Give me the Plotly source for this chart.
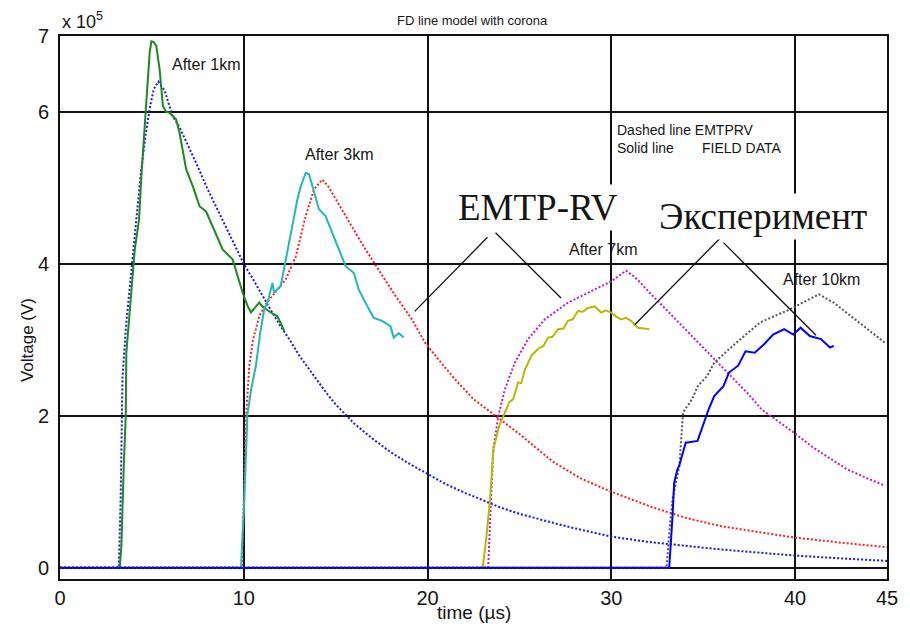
import plotly.graph_objects as go

# ---- EMTP-RV simulated waveforms (time in µs, voltage in 1e5 V) ----
emtp_1km_t = [0, 3.2, 3.3, 3.4, 3.6, 4.0, 4.15, 4.4, 4.7, 4.9, 5.1, 5.35, 5.7, 6.1, 6.5, 7.0, 7.5, 8.0,
              8.5, 9.0, 9.5, 10, 10.5, 11, 11.5, 12, 12.5, 13, 13.5, 14, 14.5, 15, 15.5, 16, 17, 18,
              19, 20, 21, 22, 23, 24, 25, 26, 27, 28, 29, 30, 32, 34, 36, 38, 40, 42, 44, 45]
emtp_1km_v = [0, 0, 0.9, 2.5, 3.2, 4.2, 4.58, 5.2, 5.77, 6.07, 6.3, 6.4, 6.28, 5.96, 5.8, 5.55, 5.28, 5.0,
              4.75, 4.5, 4.25, 4.0, 3.8, 3.58, 3.38, 3.18, 3.0, 2.8, 2.63, 2.46, 2.3, 2.15, 2.02, 1.9, 1.7, 1.52,
              1.37, 1.23, 1.1, 0.99, 0.89, 0.79, 0.71, 0.64, 0.58, 0.52, 0.46, 0.41, 0.34, 0.29, 0.24, 0.2, 0.16, 0.13, 0.1, 0.09]

emtp_3km_t = [0, 9.9, 10.0, 10.1, 10.3, 10.5, 10.84, 11.2, 11.56, 12.29, 12.83, 13.37, 13.82, 14.27, 14.6,
              15.0, 15.5, 16.08, 16.6, 17.16, 17.7, 18.25, 19.15, 19.87, 20.8, 21.5, 22.5, 23.6, 25.0,
              26.8, 28.3, 29.9, 32.2, 34.0, 35.9, 38.0, 39.9, 42.5, 45]
emtp_3km_v = [0, 0, 0.9, 1.9, 2.66, 3.0, 3.31, 3.47, 3.58, 3.8, 4.1, 4.63, 4.98, 5.11, 5.02,
              4.85, 4.65, 4.41, 4.2, 3.99, 3.78, 3.58, 3.27, 2.96, 2.68, 2.48, 2.22, 2.02, 1.76,
              1.4, 1.18, 1.01, 0.8, 0.66, 0.55, 0.47, 0.4, 0.33, 0.27]

emtp_7km_t = [0, 23.3, 23.45, 23.58, 23.85, 24.21, 24.75, 25.47, 26.38, 27.64, 28.9, 29.99, 30.8, 31.2,
              31.6, 32.0, 33.06, 33.78, 34.7, 35.6, 36.5, 37.4, 38.2, 39.93, 41.0, 42.2, 42.8, 43.9, 44.9]
emtp_7km_v = [0, 0, 0.9, 1.56, 2.0, 2.35, 2.7, 3.01, 3.27, 3.49, 3.64, 3.77, 3.91, 3.84,
              3.75, 3.64, 3.38, 3.2, 2.97, 2.74, 2.52, 2.3, 2.08, 1.78, 1.58, 1.4, 1.3, 1.18, 1.08]

emtp_10km_t = [0, 33.0, 33.2, 33.33, 33.5, 33.7, 33.9, 34.05, 34.4, 34.7, 35.2, 35.6, 36.6, 38.1, 39.7,
               41.3, 42.1, 43.5, 44.9]
emtp_10km_v = [0, 0, 0.6, 0.9, 1.1, 1.34, 2.04, 2.1, 2.22, 2.39, 2.52, 2.7, 2.92, 3.23, 3.4,
               3.6, 3.49, 3.23, 2.96]

# ---- Field measurements ----
field_1km_t = [3.25, 3.34, 3.47, 3.58, 3.61, 3.8, 4.07, 4.3, 4.43, 4.66, 4.88, 4.97, 5.1, 5.24, 5.42, 5.6,
               5.78, 5.96, 6.32, 6.5, 6.87, 7.23, 7.59, 7.95, 8.2, 8.49, 8.85, 9.39, 9.76, 9.94, 10.2,
               10.39, 10.6, 10.84, 11.02, 11.47, 11.83, 12.2]
field_1km_v = [0, 0.29, 1.34, 2.02, 2.83, 3.4, 4.19, 4.58, 5.16, 6.0, 6.78, 6.93, 6.92, 6.87, 6.56, 6.08,
               6.0, 5.99, 5.9, 5.73, 5.24, 5.02, 4.76, 4.69, 4.55, 4.41, 4.19, 4.06, 3.75, 3.62, 3.45,
               3.36, 3.42, 3.49, 3.44, 3.36, 3.31, 3.12]

field_3km_t = [9.85, 10.03, 10.2, 10.4, 10.66, 10.9, 11.11, 11.3, 11.56, 11.65, 11.8, 12.01, 12.29, 12.65,
               12.92, 13.1, 13.37, 13.55, 13.82, 14.09, 14.45, 14.82, 15.18, 15.54, 15.99, 16.26, 16.62,
               17.07, 17.52, 17.98, 18.16, 18.43, 18.7]
field_3km_v = [0, 0.9, 2.02, 2.35, 2.66, 3.1, 3.4, 3.5, 3.75, 3.62, 3.66, 3.71, 4.06, 4.54,
               4.85, 5.02, 5.2, 5.18, 4.94, 4.72, 4.63, 4.41, 4.19, 3.97, 3.88, 3.66, 3.49,
               3.29, 3.25, 3.18, 3.03, 3.09, 3.03]

field_7km_t = [23.0, 23.2, 23.4, 23.58, 23.9, 24.21, 24.45, 24.66, 24.93, 25.1, 25.3, 25.65, 26.0, 26.3,
               26.56, 26.8, 27.1, 27.4, 27.64, 27.9, 28.18, 28.45, 28.73, 29.09, 29.45, 29.7, 29.99,
               30.25, 30.53, 30.8, 31.07, 31.44, 31.7, 32.07]
field_7km_v = [0, 0.4, 0.9, 1.56, 1.87, 2.04, 2.18, 2.22, 2.44, 2.43, 2.61, 2.79, 2.88, 2.92,
               3.03, 3.04, 3.14, 3.15, 3.25, 3.27, 3.38, 3.37, 3.42, 3.44, 3.36, 3.39, 3.36,
               3.31, 3.27, 3.29, 3.25, 3.16, 3.15, 3.14]

field_10km_t = [0, 33.15, 33.33, 33.42, 33.6, 33.69, 34.05, 34.15, 34.69, 35.3, 35.6, 36.1, 36.4, 36.9,
                37.3, 37.8, 38.3, 38.8, 39.4, 39.9, 40.3, 40.8, 41.4, 41.9, 42.1]
field_10km_v = [0, 0, 0.68, 1.12, 1.3, 1.34, 1.65, 1.65, 1.67, 2.09, 2.26, 2.39, 2.57, 2.66,
                2.85, 2.83, 2.94, 3.07, 3.14, 3.07, 3.16, 3.05, 3.01, 2.9, 2.92]

x_ticks = [0, 10, 20, 30, 40, 45]
y_ticks = [0, 2, 4, 6, 7]
y_tick_text = ["0", "2", "4", "6", "7"]

# Distance labels beside each pair of curves: (text, t, v)
distance_labels = [("After 1km", 7.94, 6.62), ("After 3km", 15.18, 5.44),
                   ("After 7km", 29.57, 4.19), ("After 10km", 41.44, 3.80)]

# Leader lines from the two large captions to the curves: (t0, v0, t1, v1)
emtp_leaders = [(23.26, 4.35, 19.3, 3.375), (23.7, 4.41, 27.26, 3.55)]
field_leaders = [(35.93, 4.34, 31.27, 3.20), (36.1, 4.28, 41.14, 3.06)]

DOT = "2px,2px"
fig = go.Figure()

dotted = [
    (emtp_1km_t, emtp_1km_v, "#1414ff", "EMTP 1km"),
    (emtp_3km_t, emtp_3km_v, "#ff1e1e", "EMTP 3km"),
    (emtp_7km_t, emtp_7km_v, "#c21ec2", "EMTP 7km"),
    (emtp_10km_t, emtp_10km_v, "#555555", "EMTP 10km"),
]
for t, v, c, n in dotted:
    fig.add_trace(go.Scatter(x=t, y=v, mode="lines", name=n,
                             line=dict(color=c, width=2, dash=DOT)))

solid = [
    (field_1km_t, field_1km_v, "#1c8a1c", "Field 1km"),
    (field_3km_t, field_3km_v, "#22b8b8", "Field 3km"),
    (field_7km_t, field_7km_v, "#b8b800", "Field 7km"),
    (field_10km_t, field_10km_v, "#0000ff", "Field 10km"),
]
for t, v, c, n in solid:
    fig.add_trace(go.Scatter(x=t, y=v, mode="lines", name=n,
                             line=dict(color=c, width=2)))

TXT = "#151515"
SANS = "Liberation Sans, Arial, sans-serif"
SERIF = "Liberation Serif, Times New Roman, serif"

# plot area in pixels: x 60..890, y 36..579
def px(x):
    return (x - 60) / 830


def py(y):
    return (579 - y) / 543


ann = []
for text, t, v in distance_labels:
    ann.append(dict(x=t, y=v, xref="x", yref="y", text=text, showarrow=False,
                    xanchor="center", yanchor="middle",
                    font=dict(family=SANS, size=16, color=TXT)))

ann += [
    dict(x=30.19, y=5.76, xref="x", yref="y", text="Dashed line EMTPRV", showarrow=False,
         xanchor="left", yanchor="middle", font=dict(family=SANS, size=14, color=TXT)),
    dict(x=30.19, y=5.52, xref="x", yref="y", text="Solid line", showarrow=False,
         xanchor="left", yanchor="middle", font=dict(family=SANS, size=14, color=TXT)),
    dict(x=34.8, y=5.52, xref="x", yref="y", text="FIELD DATA", showarrow=False,
         xanchor="left", yanchor="middle", font=dict(family=SANS, size=14, color=TXT)),
    dict(x=26.03, y=4.74, xref="x", yref="y", text="EMTP-RV", showarrow=False,
         xanchor="center", yanchor="middle",
         bgcolor="white", borderpad=2, font=dict(family=SERIF, size=37, color=TXT)),
    dict(x=38.23, y=4.63, xref="x", yref="y", text="Эксперимент", showarrow=False,
         xanchor="center", yanchor="middle",
         bgcolor="white", borderpad=2, font=dict(family=SERIF, size=37, color=TXT)),
    # Title and exponent note above the axes
    dict(x=px(474), y=py(21), xref="paper", yref="paper",
         xanchor="center", yanchor="middle",
         text="FD line model with corona", showarrow=False,
         font=dict(family=SANS, size=13, color=TXT)),
    dict(x=px(60), y=py(20), xref="paper", yref="paper", xanchor="left", yanchor="middle",
         text="x 10<sup>5</sup>", showarrow=False,
         font=dict(family=SANS, size=18, color=TXT)),
    # Axis titles
    dict(x=px(475), y=py(612), xref="paper", yref="paper",
         xanchor="center", yanchor="middle",
         text="time (\u00b5s)", showarrow=False,
         font=dict(family=SANS, size=19, color=TXT)),
    dict(x=px(27), y=py(340), xref="paper", yref="paper",
         xanchor="center", yanchor="middle",
         text="Voltage (V)", textangle=-90, showarrow=False,
         font=dict(family=SANS, size=17, color=TXT)),
]

shapes = []
for t0, v0, t1, v1 in emtp_leaders + field_leaders:
    shapes.append(dict(type="line", xref="x", yref="y", x0=t0, y0=v0, x1=t1, y1=v1,
                       line=dict(color="#111111", width=1.3)))

fig.update_layout(
    width=910, height=628,
    margin=dict(l=60, r=20, t=36, b=49),
    paper_bgcolor="white", plot_bgcolor="white",
    showlegend=False,
    annotations=ann,
    shapes=shapes,
    xaxis=dict(range=[0, 45], tickvals=x_ticks, showgrid=True, gridcolor="#111111",
               gridwidth=1.6, zeroline=False, showline=True, linecolor="#111111",
               linewidth=2, mirror=True, ticks="", ticklabelstandoff=0,
               tickfont=dict(family=SANS, size=20, color=TXT)),
    yaxis=dict(range=[-0.148, 7], tickvals=y_ticks, ticktext=y_tick_text, showgrid=True,
               gridcolor="#111111", gridwidth=1.6, zeroline=False, showline=True,
               linecolor="#111111", linewidth=2, mirror=True, ticks="",
               ticklabelstandoff=5,
               tickfont=dict(family=SANS, size=20, color=TXT)),
)

fig.write_html("out.html")
